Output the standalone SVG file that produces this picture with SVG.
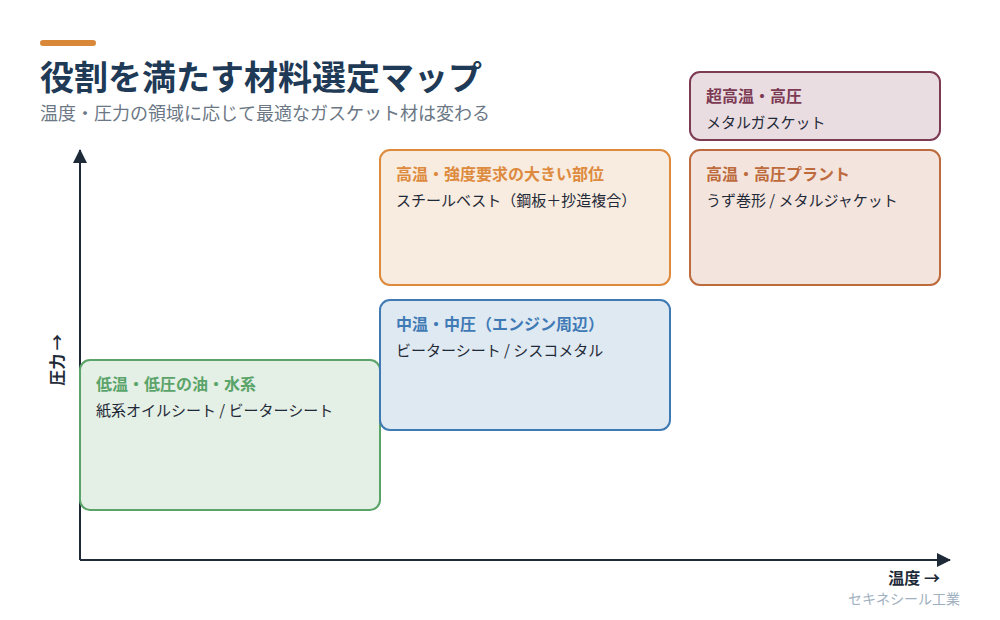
<svg xmlns="http://www.w3.org/2000/svg" width="1000" height="620" viewBox="0 0 1000 620">
<defs>
<style>
text{font-family:"Noto Sans CJK JP","Noto Sans",sans-serif;}
.ttl{font-size:16px;font-weight:700;}
.sub{font-size:15px;fill:#1f2937;}
.axis{stroke:#1e2a38;stroke-width:2;fill:none;}
</style>
<marker id="arrH" viewBox="0 0 14 14" refX="13" refY="7" markerWidth="14" markerHeight="14" markerUnits="userSpaceOnUse" orient="auto">
<path d="M0,0 L14,7 L0,14 z" fill="#1e2a38"/>
</marker>
</defs>
<rect width="1000" height="620" fill="#ffffff"/>
<rect x="40" y="40" width="56" height="6" rx="3" fill="#d9883a"/>
<text x="40" y="90" font-size="34" font-weight="700" fill="#1e3a56">役割を満たす材料選定マップ</text>
<text x="40" y="120" font-size="18" fill="#6b7785">温度・圧力の領域に応じて最適なガスケット材は変わる</text>
<g id="connectors">
<line class="axis" x1="80" y1="560" x2="80" y2="150" marker-end="url(#arrH)"/>
<line class="axis" x1="80" y1="560" x2="950" y2="560" marker-end="url(#arrH)"/>
</g>
<text transform="translate(63,360) rotate(-90)" text-anchor="middle" font-size="16" font-weight="700" fill="#1e2a38">圧力 →</text>
<text x="940" y="584" text-anchor="end" font-size="16" font-weight="700" fill="#1e2a38">温度 →</text>
<text x="960" y="604" text-anchor="end" font-size="14" fill="#9fb0c0">セキネシール工業</text>
<g id="node-low">
<rect x="80" y="360" width="300" height="150" rx="10" fill="#e4efe5" stroke="#5aa469" stroke-width="2"/>
<text class="ttl" x="96" y="390" fill="#5aa469">低温・低圧の油・水系</text>
<text class="sub" x="96" y="416">紙系オイルシート / ビーターシート</text>
</g>
<g id="node-mid">
<rect x="380" y="300" width="290" height="130" rx="10" fill="#dfe9f2" stroke="#3f7ab5" stroke-width="2"/>
<text class="ttl" x="396" y="330" fill="#3f7ab5">中温・中圧（エンジン周辺）</text>
<text class="sub" x="396" y="356">ビーターシート / シスコメタル</text>
</g>
<g id="node-strength">
<rect x="380" y="150" width="290" height="135" rx="10" fill="#f8ebdf" stroke="#dd8a3d" stroke-width="2"/>
<text class="ttl" x="396" y="180" fill="#dd8a3d">高温・強度要求の大きい部位</text>
<text class="sub" x="396" y="206">スチールベスト（鋼板＋抄造複合）</text>
</g>
<g id="node-plant">
<rect x="690" y="150" width="250" height="135" rx="10" fill="#f3e5de" stroke="#bd6a3c" stroke-width="2"/>
<text class="ttl" x="706" y="180" fill="#bd6a3c">高温・高圧プラント</text>
<text class="sub" x="706" y="206">うず巻形 / メタルジャケット</text>
</g>
<g id="node-ultra">
<rect x="690" y="72" width="250" height="68" rx="10" fill="#e9dde2" stroke="#7d3a53" stroke-width="2"/>
<text class="ttl" x="706" y="102" fill="#7d3a53">超高温・高圧</text>
<text class="sub" x="706" y="128">メタルガスケット</text>
</g>
</svg>
